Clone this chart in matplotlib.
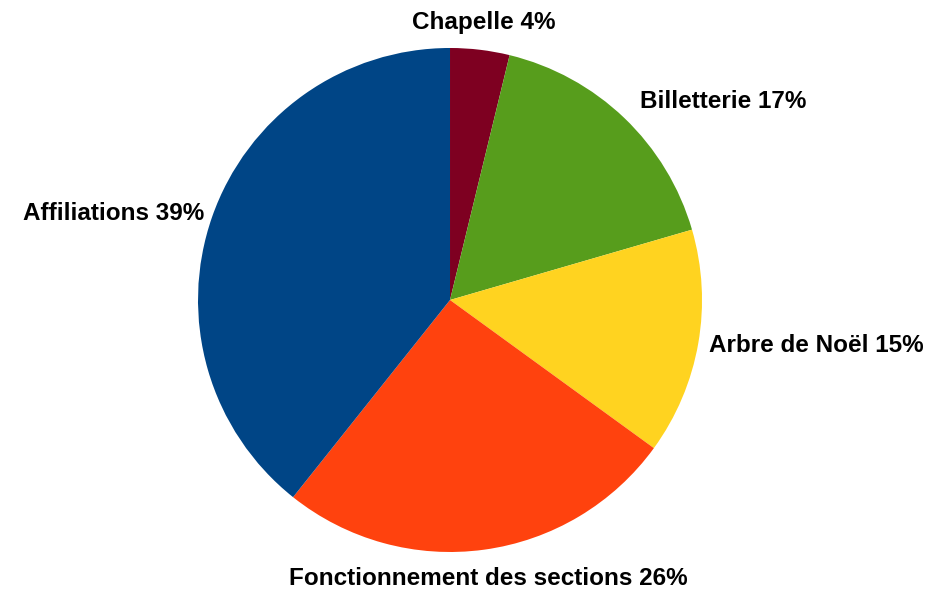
import numpy as np
import matplotlib.pyplot as plt

categories = ["Chapelle", "Billetterie", "Arbre de Noël", "Fonctionnement des sections", "Affiliations"]
values = [3.8, 16.7, 14.5, 25.7, 39.3]
shown_pct = [4, 17, 15, 26, 39]
colors = ["#7e0021", "#579d1c", "#ffd320", "#ff420e", "#004586"]
label_dist = [1.11, 1.09, 1.045, 1.115, 1.035]

labels = [f"{c} {p}%" for c, p in zip(categories, shown_pct)]

fig = plt.figure(figsize=(9.51, 5.91), dpi=100)
ax = fig.add_axes([0.2082, 0.066, 0.53, 0.8528])

wedges, texts = ax.pie(values, labels=labels, colors=colors, startangle=90,
                       counterclock=False, labeldistance=1.07,
                       wedgeprops=dict(linewidth=0),
                       textprops=dict(fontsize=17.5, fontweight="bold",
                                      family="Liberation Sans"))

# move each label along its slice's middle direction
for w, t, d in zip(wedges, texts, label_dist):
    ang = np.deg2rad((w.theta1 + w.theta2) / 2)
    t.set_position((d * np.cos(ang), d * np.sin(ang)))
    t.set_va("center")

# top and bottom labels are centred over the slice
texts[0].set_ha("center")
texts[3].set_ha("center")

ax.set_xlim(-1, 1)
ax.set_ylim(-1, 1)
ax.axis("off")

plt.savefig("out.png", dpi=100)
